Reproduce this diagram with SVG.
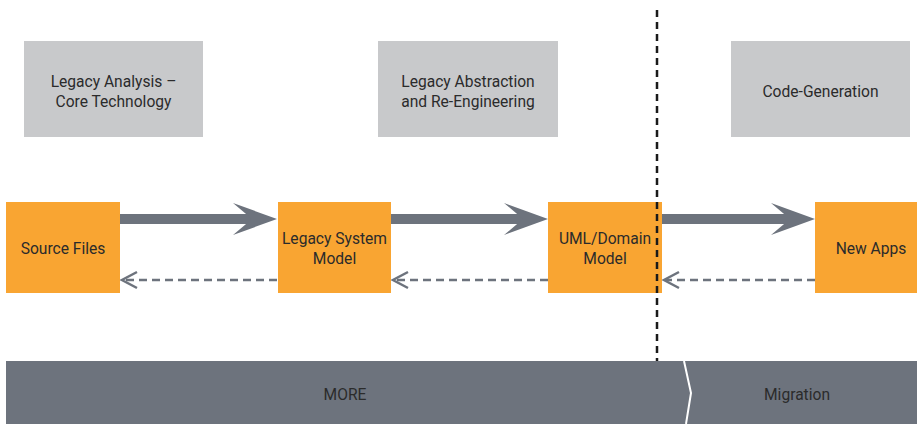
<svg xmlns="http://www.w3.org/2000/svg" width="917" height="424" viewBox="0 0 917 424">
  <defs>
    <style>
      .phase { fill: #c8c9cb; }
      .node { fill: #f9a532; }
      .lbl { font-family: Roboto, "Liberation Sans", sans-serif; font-size: 15.6px; fill: #2b2b2b; text-anchor: middle; }
      .flow { fill: #6d737d; }
      .back { stroke: #6d737d; stroke-width: 2.5; stroke-dasharray: 8 5; fill: none; }
      .backhead { stroke: #6d737d; stroke-width: 2.5; fill: none; }
      .band { fill: #6d737d; }
    </style>
  </defs>

  <rect width="917" height="424" fill="#ffffff"/>

  <!-- phase boxes -->
  <g id="phase-analysis">
    <rect class="phase" x="24" y="41" width="179" height="96"/>
    <text class="lbl" x="113.5" y="87">Legacy Analysis –</text>
    <text class="lbl" x="113.5" y="107">Core Technology</text>
  </g>
  <g id="phase-abstraction">
    <rect class="phase" x="378" y="41" width="180" height="96"/>
    <text class="lbl" x="468" y="87">Legacy Abstraction</text>
    <text class="lbl" x="468" y="107">and Re-Engineering</text>
  </g>
  <g id="phase-codegen">
    <rect class="phase" x="731" y="41" width="179" height="96"/>
    <text class="lbl" x="820.5" y="97">Code-Generation</text>
  </g>

  <!-- connectors: thick forward flows, dashed return flows -->
  <g id="connectors">
    <rect class="flow" x="120" y="214" width="135" height="10"/>
    <path class="flow" d="M277 219 L233 203 L252 219 L233 235 Z"/>
    <rect class="flow" x="391" y="214" width="135" height="10"/>
    <path class="flow" d="M548 219 L504 203 L523 219 L504 235 Z"/>
    <rect class="flow" x="662" y="214" width="133" height="10"/>
    <path class="flow" d="M815 219 L771 203 L790 219 L771 235 Z"/>

    <line class="back" x1="277" y1="280" x2="124" y2="280"/>
    <path class="backhead" d="M137 272 L122 280 L137 288"/>
    <line class="back" x1="548" y1="280" x2="395" y2="280"/>
    <path class="backhead" d="M408 272 L393 280 L408 288"/>
    <line class="back" x1="815" y1="280" x2="666" y2="280"/>
    <path class="backhead" d="M679 272 L664 280 L679 288"/>
  </g>

  <!-- model nodes -->
  <g id="node-source">
    <rect class="node" x="6" y="202" width="114" height="91"/>
    <text class="lbl" x="63" y="254">Source Files</text>
  </g>
  <g id="node-legacy">
    <rect class="node" x="278" y="202" width="113" height="91"/>
    <text class="lbl" x="334.5" y="244">Legacy System</text>
    <text class="lbl" x="334.5" y="264">Model</text>
  </g>
  <g id="node-uml">
    <rect class="node" x="548" y="202" width="114" height="91"/>
    <text class="lbl" x="605" y="244">UML/Domain</text>
    <text class="lbl" x="605" y="264">Model</text>
  </g>
  <g id="node-newapps">
    <rect class="node" x="815" y="202" width="102" height="91"/>
    <text class="lbl" x="871" y="254">New Apps</text>
  </g>

  <!-- boundary between re-engineering and migration -->
  <line x1="657" y1="10" x2="657" y2="361" stroke="#1a1a1a" stroke-width="2.5" stroke-dasharray="7 5"/>

  <!-- bottom band -->
  <g id="band">
    <rect class="band" x="6" y="361" width="911" height="63"/>
    <path d="M684 361 L691 393 L686 424" stroke="#ffffff" stroke-width="2" fill="none"/>
    <text class="lbl" x="345" y="400">MORE</text>
    <text class="lbl" x="797" y="400">Migration</text>
  </g>
</svg>
